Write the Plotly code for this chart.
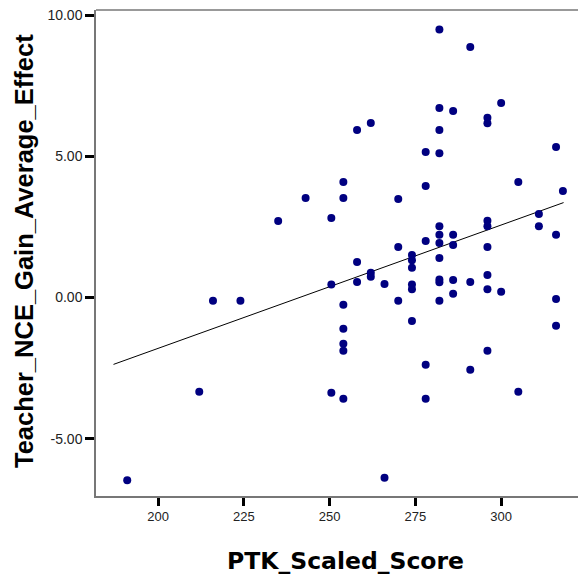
import plotly.graph_objects as go

ptk_scaled_score = [
    243, 235, 250.5, 282, 291, 300, 282, 286, 296, 296,
    258, 262, 282, 316, 278, 282, 254, 278, 305, 254,
    270, 318, 311, 311, 316, 296, 296, 282, 282, 286,
    278, 282, 286, 270, 296, 258, 274, 274, 274, 282,
    262, 262, 296, 250.5, 258, 266, 274, 274, 282, 282,
    286, 291, 296, 300, 270, 282, 286, 254, 316, 316,
    274, 254, 254, 254, 296, 278, 291, 305, 250.5, 254,
    278, 266, 216, 224, 212, 191,
]
teacher_nce_gain = [
    3.52, 2.71, 2.81, 9.49, 8.87, 6.89, 6.71, 6.60, 6.36, 6.17,
    5.93, 6.18, 5.93, 5.33, 5.15, 5.11, 4.09, 3.95, 4.09, 3.52,
    3.49, 3.77, 2.96, 2.52, 2.22, 2.72, 2.52, 2.52, 2.22, 2.22,
    2.00, 1.93, 1.86, 1.79, 1.79, 1.26, 1.50, 1.32, 1.05, 1.40,
    0.88, 0.73, 0.80, 0.46, 0.55, 0.48, 0.46, 0.29, 0.64, 0.54,
    0.62, 0.55, 0.29, 0.20, -0.12, -0.12, 0.13, -0.26, -0.05, -1.00,
    -0.83, -1.11, -1.64, -1.89, -1.89, -2.38, -2.56, -3.34, -3.37, -3.59,
    -3.59, -6.38, -0.12, -0.12, -3.34, -6.47,
]
fit_x = [187, 318.2]
fit_y = [-2.37, 3.36]

x_ticks = [200, 225, 250, 275, 300]
y_ticks = [-5, 0, 5, 10]
y_tick_labels = ["-5.00", "0.00", "5.00", "10.00"]

x_title = "PTK_Scaled_Score"
y_title = "Teacher_NCE_Gain_Average_Effect"

fig = go.Figure()
fig.add_trace(go.Scatter(
    x=fit_x, y=fit_y, mode="lines",
    line=dict(color="black", width=1), hoverinfo="skip", showlegend=False,
))
fig.add_trace(go.Scatter(
    x=ptk_scaled_score, y=teacher_nce_gain, mode="markers",
    marker=dict(color="#000080", size=8, line=dict(width=0)),
    showlegend=False,
))

fig.update_layout(
    width=578, height=577,
    margin=dict(l=96, r=0, t=10, b=81, autoexpand=False),
    plot_bgcolor="white", paper_bgcolor="white",
    font=dict(family="Liberation Sans, Arial", color="#222222"),
    shapes=[dict(type="line", xref="paper", yref="paper", x0=0, x1=1, y0=1, y1=1,
                 line=dict(color="#777777", width=1.5))],
    annotations=[
        dict(text=x_title, xref="paper", yref="paper", x=0.5176, y=-0.1337,
             xanchor="center", yanchor="middle", showarrow=False,
             font=dict(size=23.5, family="DejaVu Sans", color="black", weight="bold")),
        dict(text=y_title, xref="paper", yref="paper", x=-0.1494, y=0.504,
             xanchor="center", yanchor="middle", showarrow=False, textangle=-90,
             font=dict(size=25.5, family="Liberation Sans, Arial", color="black", weight="bold")),
    ],
)
fig.update_xaxes(
    range=[181.9, 322.4], tickvals=x_ticks, ticktext=[str(v) for v in x_ticks],
    automargin=False,
    showgrid=False, zeroline=False, showline=True, linecolor="#777777", linewidth=1.5,
    ticks="outside", ticklen=8, tickwidth=3, tickcolor="black",
    tickfont=dict(size=13, family="Liberation Sans, Arial", color="#222222"),
)
fig.update_yaxes(
    range=[-7.03, 10.18], tickvals=y_ticks, ticktext=y_tick_labels,
    automargin=False,
    showgrid=False, zeroline=False, showline=True, linecolor="#777777", linewidth=1.5,
    ticks="outside", ticklen=9, tickwidth=3, tickcolor="black",
    tickfont=dict(size=14, family="Liberation Sans, Arial", color="#222222"),
)

fig.write_html(
    "out.html",
    config={"displayModeBar": False},
    post_script="document.body.style.margin='0';document.body.style.overflow='hidden';",
)
